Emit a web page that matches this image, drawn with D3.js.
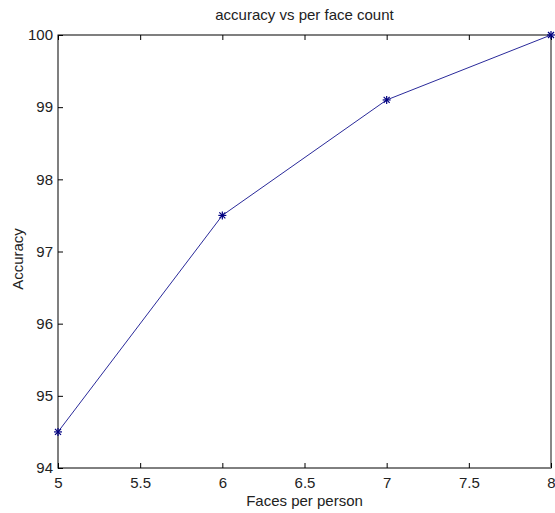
<!DOCTYPE html>
<html><head><meta charset="utf-8">
<script src="https://cdn.jsdelivr.net/npm/d3@7"></script>
<style>body{margin:0;background:#fff}svg{display:block}text{font-family:"Liberation Sans",Arial,sans-serif;fill:#222}</style>
</head><body><svg id="c" width="555" height="513"></svg>
<script>
const faces = [5, 6, 7, 8];
const accuracy = [94.5, 97.5, 99.1, 100];
const xTicks = [5, 5.5, 6, 6.5, 7, 7.5, 8];
const yTicks = [94, 95, 96, 97, 98, 99, 100];
const title = "accuracy vs per face count";
const xLabel = "Faces per person";
const yLabel = "Accuracy";

(function () {
const svg = d3.select("#c");
const m = {l: 58, r: 551, t: 35, b: 468};
const fs = 15;
const x = d3.scaleLinear().domain([5, 8]).range([m.l, m.r]);
const y = d3.scaleLinear().domain([94, 100]).range([m.b, m.t]);

svg.append("rect").attr("x", m.l).attr("y", m.t).attr("width", m.r - m.l).attr("height", m.b - m.t)
  .attr("fill", "none").attr("stroke", "#000").attr("stroke-width", 1);
svg.append("line").attr("x1", m.r).attr("x2", m.r).attr("y1", m.t).attr("y2", m.b)
  .attr("stroke", "#888").attr("stroke-width", 2);

const tl = 5;
const gBottom = svg.append("g").attr("transform", `translate(0,${m.b})`)
  .call(d3.axisBottom(x).tickValues(xTicks).tickFormat(d3.format("")).tickSizeInner(-tl).tickSizeOuter(0).tickPadding(9));
const gTop = svg.append("g").attr("transform", `translate(0,${m.t})`)
  .call(d3.axisTop(x).tickValues(xTicks).tickFormat("").tickSizeInner(-tl).tickSizeOuter(0));
const gLeft = svg.append("g").attr("transform", `translate(${m.l},0)`)
  .call(d3.axisLeft(y).tickValues(yTicks).tickFormat(d3.format("")).tickSizeInner(-tl).tickSizeOuter(0).tickPadding(5));
[gBottom, gTop, gLeft].forEach(g => {
  g.select(".domain").remove();
  g.selectAll(".tick line").attr("stroke", "#000");
  g.selectAll("text").attr("font-size", fs).style("font-family", "Liberation Sans, Arial, sans-serif").attr("fill", "#444");
});

const line = d3.line().x((d, i) => x(faces[i])).y(d => y(d));
svg.append("path").datum(accuracy).attr("d", line).attr("fill", "none")
  .attr("stroke", "#2a2a9a").attr("stroke-width", 1);

const sz = 4;
const mk = svg.append("g").attr("stroke", "#000080").attr("stroke-width", 1.2);
accuracy.forEach((v, i) => {
  const cx = x(faces[i]), cy = y(v);
  mk.append("line").attr("x1", cx - sz).attr("x2", cx + sz).attr("y1", cy).attr("y2", cy);
  mk.append("line").attr("x1", cx).attr("x2", cx).attr("y1", cy - sz).attr("y2", cy + sz);
  mk.append("line").attr("x1", cx - sz * 0.75).attr("x2", cx + sz * 0.75).attr("y1", cy - sz * 0.75).attr("y2", cy + sz * 0.75);
  mk.append("line").attr("x1", cx - sz * 0.75).attr("x2", cx + sz * 0.75).attr("y1", cy + sz * 0.75).attr("y2", cy - sz * 0.75);
});

svg.append("text").attr("x", (m.l + m.r) / 2).attr("y", 20).attr("text-anchor", "middle")
  .attr("font-size", fs).attr("fill", "#444").text(title);
svg.append("text").attr("x", (m.l + m.r) / 2).attr("y", 506).attr("text-anchor", "middle")
  .attr("font-size", fs).attr("fill", "#444").text(xLabel);
svg.append("text").attr("transform", `translate(23,259) rotate(-90)`).attr("text-anchor", "middle")
  .attr("font-size", fs).attr("fill", "#444").text(yLabel);
})();
</script></body></html>
